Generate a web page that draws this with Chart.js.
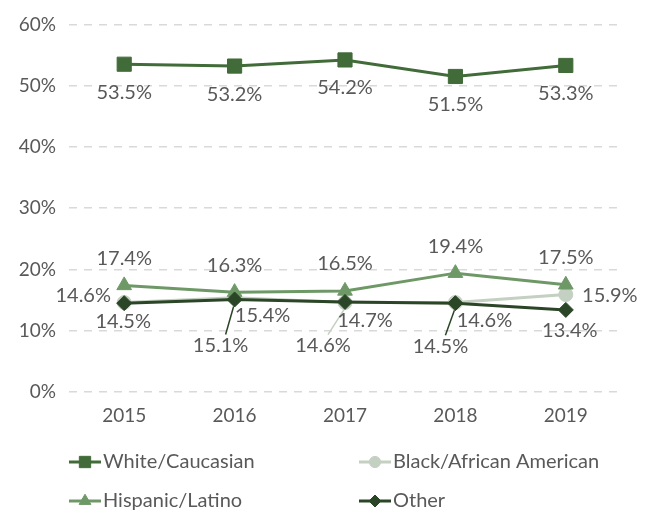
<!DOCTYPE html>
<html>
<head>
<meta charset="utf-8">
<script src="https://cdn.jsdelivr.net/npm/chart.js@4/dist/chart.umd.min.js"></script>
<style>
  html, body { margin: 0; padding: 0; background: #fff; }
  #wrap { width: 649px; height: 513px; position: relative; }
</style>
</head>
<body>
<div id="wrap"><canvas id="chart"></canvas></div>
<script>
// データ
const years = ['2015', '2016', '2017', '2018', '2019'];
const whiteValues = [53.5, 53.2, 54.2, 51.5, 53.3];
const blackValues = [14.6, 15.4, 14.6, 14.6, 15.9];
const hispanicValues = [17.4, 16.3, 16.5, 19.4, 17.5];
const otherValues = [14.5, 15.1, 14.7, 14.5, 13.4];
const yTicks = [0, 10, 20, 30, 40, 50, 60];

const FONT = 'Lato, "DejaVu Sans", sans-serif';
const TEXT = '#595959';

// ラベル位置 (点からのオフセット, 3番目 = 引き出し線)
const labelPlacement = {
  white: [[0, 28], [0, 28], [0, 28], [0, 28], [0, 28]],
  black: [[-41, -7], [28, 18], [-22, 43, true], [29, 18], [44, 1]],
  hispanic: [[0, -27], [0, -27], [0, -27], [0, -27], [0, -27]],
  other: [[-1, 18], [-14, 46, true], [20, 19], [-15, 43, true], [4, 21]]
};

// データラベル描画
const labelPlugin = {
  id: 'pointLabels',
  afterDatasetsDraw(chart) {
    const ctx = chart.ctx;
    ctx.save();
    ctx.font = '20px ' + FONT;
    ctx.textAlign = 'center';
    ctx.textBaseline = 'middle';
    chart.data.datasets.forEach((ds, i) => {
      const meta = chart.getDatasetMeta(i);
      const place = labelPlacement[ds.key];
      meta.data.forEach((pt, j) => {
        const p = place[j];
        const lx = pt.x + p[0];
        const ly = pt.y + p[1];
        if (p[2]) {
          ctx.strokeStyle = ds.borderColor;
          ctx.lineWidth = 1.5;
          ctx.beginPath();
          ctx.moveTo(pt.x - 1, pt.y + 7);
          ctx.lineTo(lx + 5, ly - 11);
          ctx.stroke();
        }
        ctx.fillStyle = TEXT;
        ctx.fillText(ds.data[j].toFixed(1) + '%', lx, ly);
      });
    });
    ctx.restore();
  }
};

// 2列の凡例
const legendPlugin = {
  id: 'gridLegend',
  afterDraw(chart) {
    const ctx = chart.ctx;
    const cols = [69, 359];
    const rows = [462, 501];
    ctx.save();
    ctx.font = '20px ' + FONT;
    ctx.textBaseline = 'middle';
    ctx.textAlign = 'left';
    chart.data.datasets.forEach((ds, i) => {
      const x = cols[i % 2];
      const y = rows[Math.floor(i / 2)];
      ctx.strokeStyle = ds.borderColor;
      ctx.lineWidth = 3;
      ctx.beginPath();
      ctx.moveTo(x, y);
      ctx.lineTo(x + 32, y);
      ctx.stroke();
      ctx.fillStyle = ds.pointBackgroundColor;
      ctx.strokeStyle = ds.pointBorderColor;
      ctx.lineWidth = 1;
      Chart.helpers.drawPoint(ctx, {
        pointStyle: ds.pointStyle,
        radius: ds.pointRadius * 0.8,
        rotation: 0,
        borderWidth: 1
      }, x + 16, y);
      ctx.fillStyle = TEXT;
      ctx.fillText(ds.label, x + 34, y);
    });
    ctx.restore();
  }
};

function series(key, label, values, color, style, radius, order) {
  return {
    key: key,
    label: label,
    data: values,
    borderColor: color,
    backgroundColor: color,
    pointBackgroundColor: color,
    pointBorderColor: color,
    borderWidth: 3,
    pointStyle: style,
    pointRadius: radius,
    pointHoverRadius: radius,
    pointBorderWidth: 1,
    tension: 0,
    order: order
  };
}

new Chart(document.getElementById('chart').getContext('2d'), {
  type: 'line',
  data: {
    labels: years,
    datasets: [
      series('white', 'White/Caucasian', whiteValues, '#416b38', 'rect', 10, 4),
      series('black', 'Black/African American', blackValues, '#c4d0c1', 'circle', 7, 3),
      series('hispanic', 'Hispanic/Latino', hispanicValues, '#6e9967', 'triangle', 8.5, 2),
      series('other', 'Other', otherValues, '#2b4527', 'rectRot', 7.5, 1)
    ]
  },
  options: {
    responsive: true,
    maintainAspectRatio: false,
    animation: false,
    layout: { padding: { top: 20, right: 28, left: 0, bottom: 0 } },
    plugins: {
      legend: { display: false },
      tooltip: { enabled: false }
    },
    scales: {
      x: {
        offset: true,
        grid: { display: false, drawTicks: false, offset: true },
        border: { display: false },
        ticks: { color: TEXT, font: { family: FONT, size: 19 }, padding: 12 },
        afterFit(scale) { scale.height = 121; }
      },
      y: {
        min: yTicks[0],
        max: yTicks[yTicks.length - 1],
        afterBuildTicks(scale) { scale.ticks = yTicks.map(v => ({ value: v })); },
        grid: { color: '#d9d9d9', lineWidth: 1.5, drawTicks: false },
        border: { display: false, dash: [8, 7] },
        ticks: {
          color: TEXT,
          font: { family: FONT, size: 19 },
          padding: 13,
          callback: v => v + '%'
        },
        afterFit(scale) { scale.width = 69; }
      }
    }
  },
  plugins: [labelPlugin, legendPlugin]
});
</script>
</body>
</html>
